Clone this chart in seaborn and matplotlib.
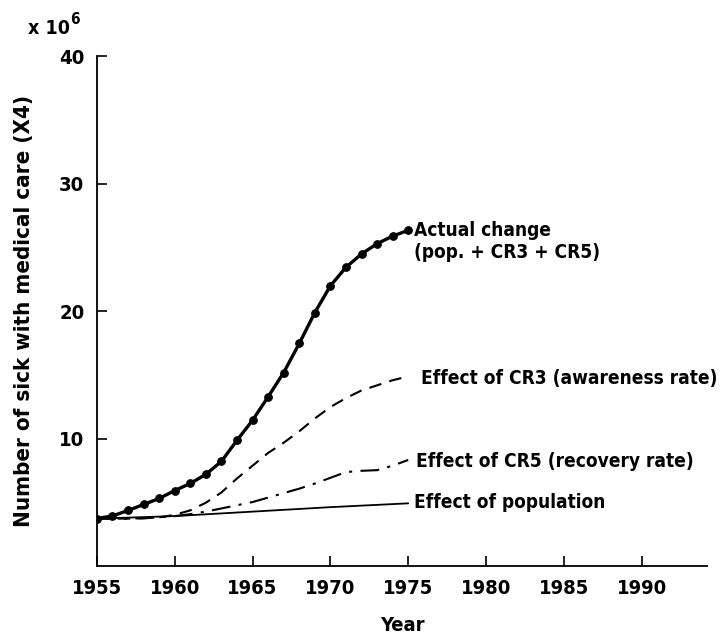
import numpy as np
import pandas as pd
import seaborn as sns
import matplotlib.pyplot as plt

years = list(range(1955, 1976))

# millions of sick with medical care
actual = [3.76, 3.96, 4.39, 4.86, 5.33, 5.95, 6.51, 7.22, 8.24, 9.89, 11.46,
          13.3, 15.2, 17.48, 19.9, 22.0, 23.45, 24.5, 25.3, 25.9, 26.35]
cr3 = [3.75, 3.75, 3.75, 3.78, 3.85, 4.05, 4.4, 5.0, 5.8, 6.9, 7.9,
       8.9, 9.7, 10.6, 11.6, 12.5, 13.2, 13.8, 14.2, 14.6, 14.9]
cr5 = [3.75, 3.75, 3.75, 3.78, 3.85, 3.95, 4.1, 4.3, 4.55, 4.8, 5.05,
       5.4, 5.75, 6.1, 6.5, 6.95, 7.4, 7.5, 7.55, 7.9, 8.35]
population = [3.75, 3.79, 3.83, 3.87, 3.91, 3.95, 4.02, 4.09, 4.16, 4.23, 4.3,
              4.37, 4.44, 4.51, 4.58, 4.65, 4.71, 4.77, 4.83, 4.89, 4.95]

labels = ["Actual change\n(pop. + CR3 + CR5)",
          "Effect of CR3 (awareness rate)",
          "Effect of CR5 (recovery rate)",
          "Effect of population"]
xticks = [1955, 1960, 1965, 1970, 1975, 1980, 1985, 1990]
yticks = [10, 20, 30, 40]

sns.set_style("ticks")
plt.rcParams['font.family'] = ['DejaVu Sans']
plt.rcParams['font.stretch'] = 'condensed'
plt.rcParams['font.weight'] = 'bold'
plt.rcParams['text.color'] = 'black'
plt.rcParams['axes.labelcolor'] = 'black'

fig = plt.figure(figsize=(7.23, 6.39), dpi=100)
ax = fig.add_axes([0.134, 0.1135, 0.844, 0.7985])

sns.lineplot(x=years, y=population, ax=ax, color='black', lw=1.3)
sns.lineplot(x=years, y=cr5, ax=ax, color='black', lw=1.5,
             linestyle=(0, (9, 4, 1.5, 4)))
sns.lineplot(x=years, y=cr3, ax=ax, color='black', lw=1.5,
             linestyle=(0, (6, 4)))
sns.lineplot(x=years, y=actual, ax=ax, color='black', lw=2.4,
             marker='o', markersize=5.5, markeredgecolor='black')

ax.set_xlim(1955, 1994.2)
ax.set_ylim(0, 40)
ax.set_xticks(xticks)
ax.set_yticks(yticks)
ax.tick_params(direction='in', length=7, width=1.2, labelsize=14.5, pad=9,
               color='black', labelcolor='black')
for side in ['top', 'right']:
    ax.spines[side].set_visible(False)
for side in ['left', 'bottom']:
    ax.spines[side].set_linewidth(1.3)
    ax.spines[side].set_color('black')

ax.set_xlabel("Year", fontsize=14.5, fontweight='bold', labelpad=13)
ax.set_ylabel("Number of sick with medical care (X4)", fontsize=16,
              fontweight='bold', labelpad=18)

# curve labels at the right end of each curve
ax.text(1975.4, 25.5, labels[0], fontsize=13.7, fontweight='bold',
        va='center', ha='left', linespacing=1.2)
ax.text(1975.8, 14.7, labels[1], fontsize=13.7, fontweight='bold',
        va='center', ha='left')
ax.text(1975.5, 8.26, labels[2], fontsize=13.7, fontweight='bold',
        va='center', ha='left')
ax.text(1975.4, 5.05, labels[3], fontsize=13.7, fontweight='bold',
        va='center', ha='left')

fig.text(28 / 723, 1 - 29 / 639, "x 10", fontsize=14, fontweight='bold',
         va='center', ha='left')
fig.text(70 / 723, 1 - 19 / 639, "6", fontsize=11, fontweight='bold',
         va='center', ha='left')

fig.savefig("out.png", dpi=100)
